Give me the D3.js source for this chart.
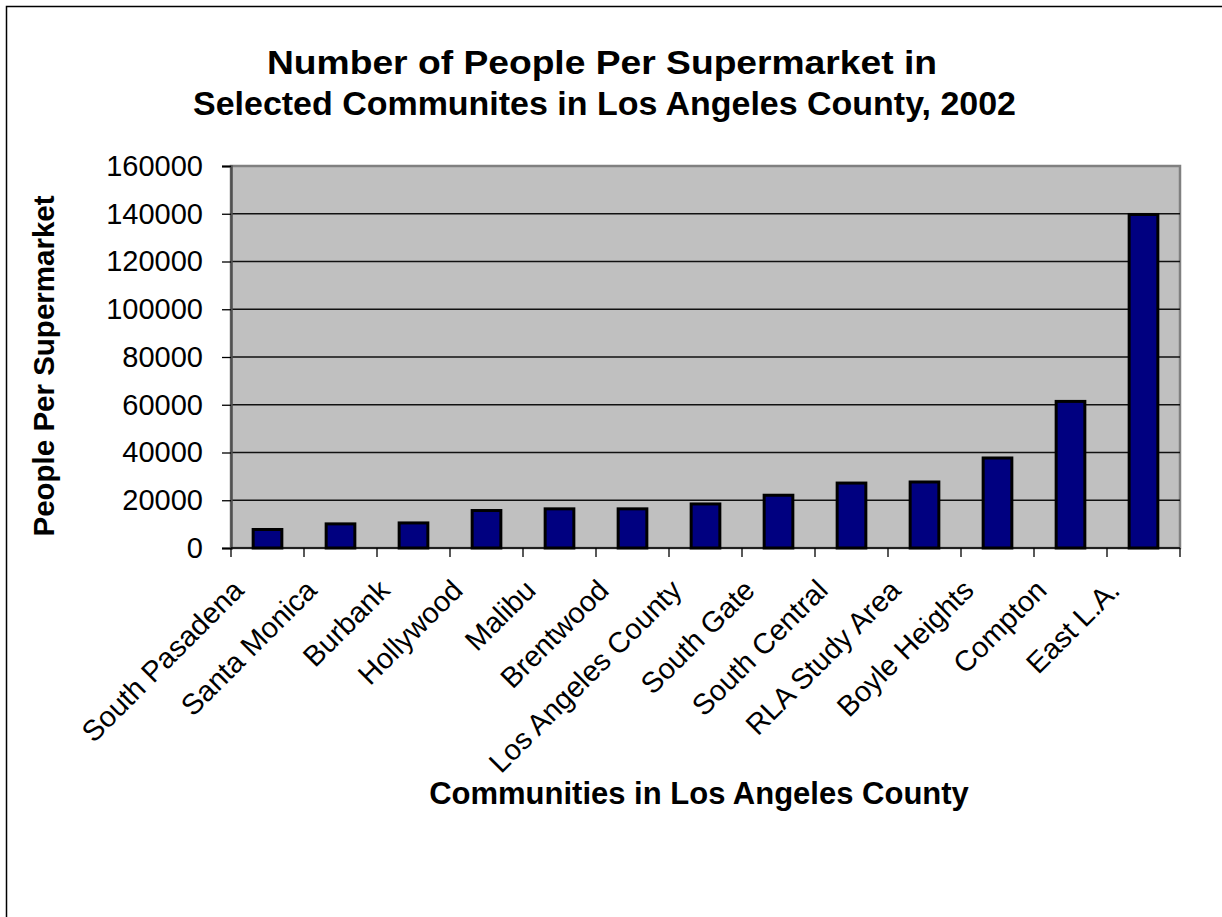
<!DOCTYPE html>
<html>
<head>
<meta charset="utf-8">
<script src="https://cdn.jsdelivr.net/npm/d3@7"></script>
<style>
  html, body { margin: 0; padding: 0; background: #fff; }
  svg { display: block; }
  text { font-family: "Liberation Sans", Arial, sans-serif; fill: #000; }
</style>
</head>
<body>
<svg id="chart" width="1222" height="917"></svg>
<script>
// Communities along the category axis
const categories = [
  "South Pasadena", "Santa Monica", "Burbank", "Hollywood", "Malibu",
  "Brentwood", "Los Angeles County", "South Gate", "South Central",
  "RLA Study Area", "Boyle Heights", "Compton", "East L.A."
];
// Number of people per supermarket
const values = [7750, 10100, 10500, 15700, 16400, 16400, 18450, 22100, 27200, 27650, 37700, 61400, 139700];
// Value axis ticks
const yTicks = [0, 20000, 40000, 60000, 80000, 100000, 120000, 140000, 160000];

const titleLines = ["Number of People Per Supermarket in", "Selected Communites in Los Angeles County, 2002"];
const yTitle = "People Per Supermarket";
const xTitle = "Communities in Los Angeles County";

const svg = d3.select("#chart");

const plot = { left: 231, right: 1180, top: 166, bottom: 548 };

const x = d3.scaleBand()
  .domain(categories)
  .range([plot.left, plot.right])
  .paddingInner(0.607)
  .paddingOuter(0.3035);

const y = d3.scaleLinear()
  .domain([0, 160000])
  .range([plot.bottom, plot.top]);

// Outer chart frame
svg.append("rect")
  .attr("x", 6.5).attr("y", 6.5)
  .attr("width", 1300).attr("height", 1000)
  .attr("fill", "none").attr("stroke", "#000").attr("stroke-width", 1.5);

// Plot area background
svg.append("rect")
  .attr("x", plot.left).attr("y", plot.top)
  .attr("width", plot.right - plot.left).attr("height", plot.bottom - plot.top)
  .attr("fill", "#c0c0c0")
  .attr("stroke", "#808080").attr("stroke-width", 2.5);

// Horizontal gridlines
svg.append("g")
  .selectAll("line")
  .data(yTicks.filter(d => d > 0 && d < 160000))
  .join("line")
  .attr("x1", plot.left).attr("x2", plot.right)
  .attr("y1", d => y(d)).attr("y2", d => y(d))
  .attr("stroke", "#111").attr("stroke-width", 1.3);

// Bars
svg.append("g")
  .selectAll("rect")
  .data(categories.map((c, i) => ({ c, v: values[i] })))
  .join("rect")
  .attr("x", d => x(d.c))
  .attr("y", d => y(d.v))
  .attr("width", x.bandwidth())
  .attr("height", d => y(0) - y(d.v))
  .attr("fill", "#000080")
  .attr("stroke", "#000").attr("stroke-width", 3);

// Value axis
const yAxis = svg.append("g")
  .attr("transform", `translate(${plot.left},0)`)
  .call(d3.axisLeft(y).tickValues(yTicks).tickSize(9).tickPadding(19).tickFormat(d3.format("d")));
yAxis.select(".domain").attr("stroke", "#505050").attr("stroke-width", 2.5);
yAxis.selectAll(".tick line").attr("stroke", "#000").attr("stroke-width", 1.3);
yAxis.selectAll(".tick text")
  .style("font-family", "'Liberation Sans', Arial, sans-serif")
  .style("font-size", "29px").attr("fill", "#000");

// Category axis line and tick marks between categories
const step = x.step();
const boundaries = d3.range(categories.length + 1).map(i => plot.left + i * step);
svg.append("line")
  .attr("x1", plot.left).attr("x2", plot.right)
  .attr("y1", plot.bottom).attr("y2", plot.bottom)
  .attr("stroke", "#000").attr("stroke-width", 1.5);
svg.append("g")
  .selectAll("line")
  .data(boundaries)
  .join("line")
  .attr("x1", d => d).attr("x2", d => d)
  .attr("y1", plot.bottom).attr("y2", plot.bottom + 9)
  .attr("stroke", "#000").attr("stroke-width", 1.3);

// Rotated category labels
svg.append("g")
  .selectAll("text")
  .data(categories)
  .join("text")
  .attr("transform", d => `translate(${x(d) + x.bandwidth() / 2 - 22},${plot.bottom + 44}) rotate(-45)`)
  .attr("text-anchor", "end")
  .style("font-size", "29px")
  .text(d => d);

// Chart title
svg.append("text")
  .attr("x", 602).attr("y", 74)
  .attr("text-anchor", "middle")
  .attr("textLength", 670).attr("lengthAdjust", "spacingAndGlyphs")
  .style("font-size", "33px").style("font-weight", "bold")
  .text(titleLines[0]);
svg.append("text")
  .attr("x", 604.5).attr("y", 115)
  .attr("text-anchor", "middle")
  .attr("textLength", 823).attr("lengthAdjust", "spacingAndGlyphs")
  .style("font-size", "33px").style("font-weight", "bold")
  .text(titleLines[1]);

// Axis titles
svg.append("text")
  .attr("transform", `translate(54,366) rotate(-90)`)
  .attr("text-anchor", "middle")
  .style("font-size", "29.5px").style("font-weight", "bold")
  .text(yTitle);

svg.append("text")
  .attr("x", 699).attr("y", 804)
  .attr("text-anchor", "middle")
  .style("font-size", "31px").style("font-weight", "bold")
  .text(xTitle);
</script>
</body>
</html>
